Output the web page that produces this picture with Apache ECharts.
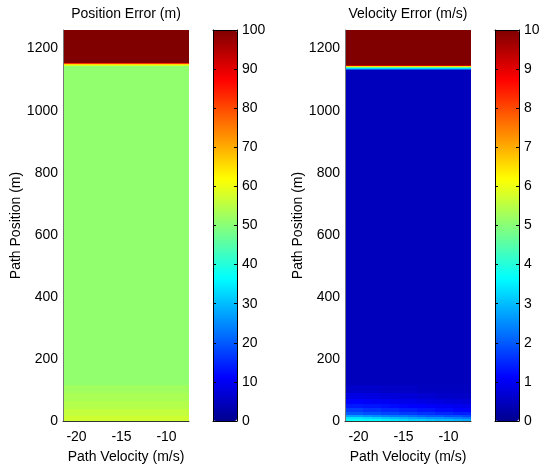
<!DOCTYPE html>
<html>
<head>
<meta charset="utf-8">
<script src="https://cdn.jsdelivr.net/npm/echarts@6/dist/echarts.min.js"></script>
<style>html,body{margin:0;padding:0;background:#fff}#c{width:540px;height:465px}</style>
</head>
<body>
<div id="c"></div>
<script>
// ---- data ----
const xCenters = [-21, -20, -19, -18, -17, -16, -15, -14, -13, -12, -11, -10, -9, -8];
const xTickValues = [-20, -15, -10];
const yMax = 1260;

// Position error (m): rows constant across velocity
const posRowEdges  = [0, 15, 40, 65, 90, 115, 1145, 1148, 1151, 1154, 1260];
const posRowValues = [57, 56, 54.5, 53.5, 52.5, 51, 58, 65, 82, 100];

// Velocity error (m/s): bottom rows vary with velocity
const velRowEdges = [0, 6, 12, 20, 30, 42, 56, 72, 90, 115, 1132, 1135, 1138, 1141, 1145, 1148, 1260];
const velBottomRows = [
  [3.7, 3.7, 3.6, 3.6, 3.5, 3.4, 3.3, 3.2, 3.2, 3.1, 3.0, 3.0, 2.9, 2.8],
  [3.4, 3.4, 3.3, 3.2, 3.1, 3.0, 2.9, 2.8, 2.7, 2.6, 2.6, 2.5, 2.4, 2.3],
  [2.7, 2.7, 2.6, 2.5, 2.4, 2.3, 2.3, 2.2, 2.1, 2.0, 2.0, 1.9, 1.9, 1.8],
  [2.0, 2.0, 1.9, 1.9, 1.8, 1.8, 1.7, 1.7, 1.6, 1.6, 1.5, 1.5, 1.4, 1.4],
  [1.7, 1.7, 1.6, 1.6, 1.5, 1.5, 1.4, 1.4, 1.3, 1.3, 1.2, 1.2, 1.1, 1.1],
  [1.35, 1.35, 1.3, 1.3, 1.25, 1.2, 1.15, 1.1, 1.1, 1.05, 1.0, 1.0, 0.95, 0.9],
  [1.1, 1.1, 1.05, 1.0, 1.0, 0.95, 0.9, 0.9, 0.85, 0.8, 0.8, 0.75, 0.75, 0.7],
  [0.85, 0.85, 0.8, 0.8, 0.75, 0.75, 0.7, 0.7, 0.65, 0.65, 0.6, 0.6, 0.55, 0.55],
  [0.6, 0.6, 0.6, 0.6, 0.55, 0.55, 0.55, 0.55, 0.5, 0.5, 0.5, 0.5, 0.5, 0.5]
];
const velUpperValues = [0.45, 2.0, 3.3, 4.5, 6.5, 9.3, 10];

// ---- build cells ----
function cellsConstRows(edges, vals) {
  const out = [];
  for (let r = 0; r < vals.length; r++)
    for (const x of xCenters) out.push([x - 0.5, x + 0.5, edges[r], edges[r + 1], vals[r]]);
  return out;
}
const posData = cellsConstRows(posRowEdges, posRowValues);
const velData = [];
velBottomRows.forEach((row, r) => row.forEach((v, c) =>
  velData.push([xCenters[c] - 0.5, xCenters[c] + 0.5, velRowEdges[r], velRowEdges[r + 1], v])));
velUpperValues.forEach((v, k) => {
  const r = velBottomRows.length + k;
  xCenters.forEach(x => velData.push([x - 0.5, x + 0.5, velRowEdges[r], velRowEdges[r + 1], v]));
});

// MATLAB jet(64) colormap
function jet64() {
  const cl = v => Math.max(0, Math.min(1, v));
  const hex = v => Math.round(cl(v) * 255).toString(16).padStart(2, '0');
  const out = [];
  for (let i = 1; i <= 64; i++) {
    let r = i <= 24 ? 0 : i <= 40 ? (i - 24) / 16 : i <= 55 ? 1 : (72 - i) / 16;
    let g = i <= 8 ? 0 : i <= 24 ? (i - 8) / 16 : i <= 39 ? 1 : i <= 55 ? (56 - i) / 16 : 0;
    let b = i <= 8 ? (i + 8) / 16 : i <= 23 ? 1 : i <= 39 ? (40 - i) / 16 : 0;
    out.push('#' + hex(r) + hex(g) + hex(b));
  }
  return out;
}
const JET = jet64();

const FONT = 'Liberation Sans, Arial, Helvetica, sans-serif';
const txt = { color: '#000', fontSize: 14, fontFamily: FONT };
const plain = v => String(v);

function renderItem(params, api) {
  const p0 = api.coord([api.value(0), api.value(3)]);
  const p1 = api.coord([api.value(1), api.value(2)]);
  const x0 = Math.round(p0[0]), y0 = Math.round(p0[1]);
  const x1 = Math.round(p1[0]), y1 = Math.round(p1[1]);
  return { type: 'rect', shape: { x: x0, y: y0, width: x1 - x0, height: y1 - y0 },
           style: { fill: api.visual('color') } };
}

const plotW = 126, plotTop = 30, plotH = 391;
const L = [63, 345];      // plot lefts
const CB = [213, 495];    // colorbar lefts
const cbW = 24;

function mainX(gi) {
  return { gridIndex: gi, type: 'value', min: -21.5, max: -7.5, z: 10,
    name: 'Path Velocity (m/s)', nameLocation: 'middle', nameGap: 29,
    nameTextStyle: txt,
    axisLine: { show: true, onZero: false, lineStyle: { color: '#333', width: 1 } },
    axisTick: { show: false }, splitLine: { show: false },
    axisLabel: Object.assign({ margin: 9, customValues: xTickValues, formatter: plain }, txt) };
}
function mainY(gi) {
  return { gridIndex: gi, type: 'value', min: 0, max: yMax, interval: 200, z: 10,
    name: 'Path Position (m)', nameLocation: 'middle', nameGap: 40, nameRotate: 90,
    nameTextStyle: txt,
    axisLine: { show: true, onZero: false, lineStyle: { color: '#777', width: 1 } },
    axisTick: { show: false }, splitLine: { show: false },
    axisLabel: Object.assign({ margin: 5, showMaxLabel: false, formatter: plain }, txt) };
}
function cbX(gi, pos) {
  return { gridIndex: gi, type: 'value', min: 0, max: 1, position: pos, z: 10,
    axisLine: { show: true, onZero: false, lineStyle: { color: '#000', width: 1 } },
    axisTick: { show: false }, axisLabel: { show: false }, splitLine: { show: false } };
}
function cbY(gi, pos, max, interval, labels) {
  return { gridIndex: gi, type: 'value', min: 0, max: max, interval: interval, position: pos, z: 10,
    axisLine: { show: true, onZero: false, lineStyle: { color: '#000', width: 1 } },
    axisTick: { show: true, inside: true, length: 3, lineStyle: { color: '#000' } },
    axisLabel: Object.assign({ show: labels, margin: 5, formatter: plain }, txt), splitLine: { show: false } };
}
function gridAt(left, w) {
  return { left: left, top: plotTop, width: w, height: plotH,
           containLabel: false, outerBoundsMode: 'none' };
}

const chart = echarts.init(document.getElementById('c'), null, { renderer: 'canvas' });
chart.setOption({
  animation: false,
  backgroundColor: '#fff',
  title: [
    { text: 'Position Error (m)', left: L[0] + plotW / 2, top: 7, textAlign: 'center', padding: 0,
      textStyle: { fontSize: 14, fontWeight: 'normal', color: '#000', fontFamily: FONT } },
    { text: 'Velocity Error (m/s)', left: L[1] + plotW / 2, top: 7, textAlign: 'center', padding: 0,
      textStyle: { fontSize: 14, fontWeight: 'normal', color: '#000', fontFamily: FONT } }
  ],
  grid: [gridAt(L[0], plotW), gridAt(L[1], plotW), gridAt(CB[0], cbW), gridAt(CB[1], cbW)],
  xAxis: [mainX(0), mainX(1),
          cbX(2, 'bottom'), cbX(2, 'top'), cbX(3, 'bottom'), cbX(3, 'top')],
  yAxis: [mainY(0), mainY(1),
          cbY(2, 'left', 100, 10, false), cbY(2, 'right', 100, 10, true),
          cbY(3, 'left', 10, 1, false), cbY(3, 'right', 10, 1, true)],
  visualMap: [
    { type: 'continuous', min: 0, max: 100, seriesIndex: 0, dimension: 4, calculable: false,
      inRange: { color: JET }, left: CB[0], top: plotTop, itemWidth: cbW, itemHeight: plotH,
      padding: 0, orient: 'vertical', hoverLink: false },
    { type: 'continuous', min: 0, max: 10, seriesIndex: 1, dimension: 4, calculable: false,
      inRange: { color: JET }, left: CB[1], top: plotTop, itemWidth: cbW, itemHeight: plotH,
      padding: 0, orient: 'vertical', hoverLink: false }
  ],
  series: [
    { type: 'custom', xAxisIndex: 0, yAxisIndex: 0, renderItem: renderItem, z: 1,
      encode: { x: [0, 1], y: [2, 3] }, data: posData, silent: true },
    { type: 'custom', xAxisIndex: 1, yAxisIndex: 1, renderItem: renderItem, z: 1,
      encode: { x: [0, 1], y: [2, 3] }, data: velData, silent: true }
  ]
});
</script>
</body>
</html>
